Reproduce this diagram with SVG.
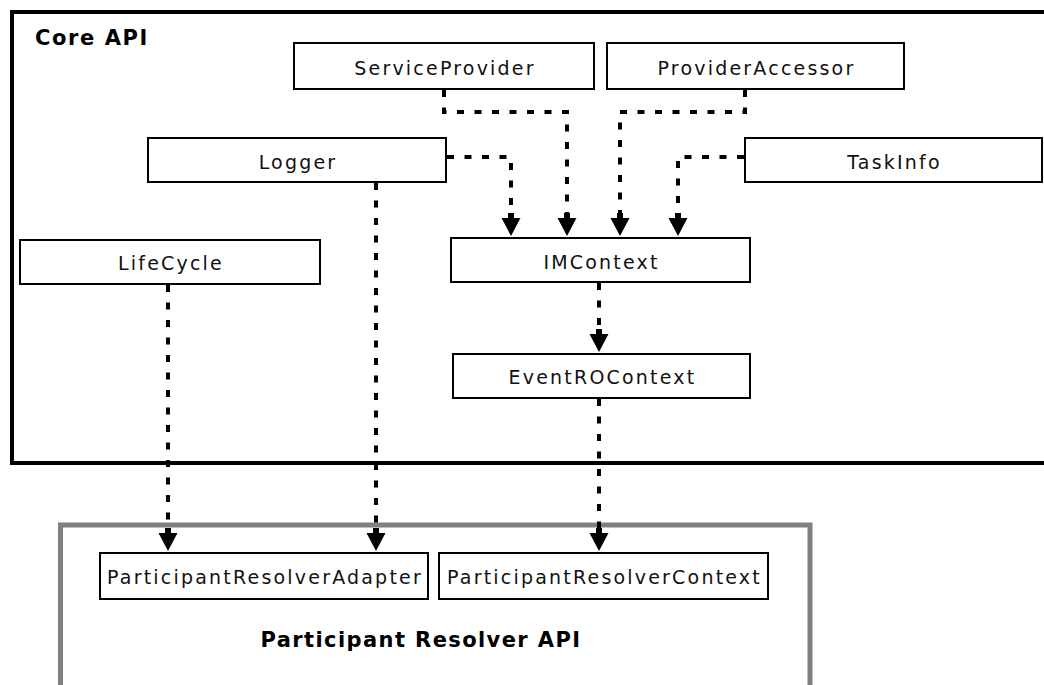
<svg xmlns="http://www.w3.org/2000/svg" xmlns:xlink="http://www.w3.org/1999/xlink" width="1044" height="685" viewBox="0 0 1044 685">
<style>
.node rect{fill:#fff;stroke:#000;stroke-width:2}
.node text{font-family:"DejaVu Sans",Verdana,sans-serif;font-size:19px;letter-spacing:2.2px;fill:#111;text-anchor:middle}
.title{font-family:"DejaVu Sans",Verdana,sans-serif;font-weight:bold;font-size:21px;fill:#000}
.conn path.l{fill:none;stroke:#000;stroke-width:4;stroke-dasharray:7 10.5}
.ah{fill:#000}
</style>
<defs>
<path id="ah" class="ah" d="M-3,-23 H3 V-18 H9.5 L0,0 L-9.5,-18 H-3 Z"/>
</defs>
<rect width="1044" height="685" fill="#fff"/>
<g id="core-api">
<rect x="12" y="12" width="1040" height="451" fill="none" stroke="#000" stroke-width="4"/>
<text class="title" x="35" y="45" letter-spacing="1.6">Core API</text>
</g>
<g id="participant-resolver-api">
<rect x="60.5" y="525" width="749.5" height="200" fill="none" stroke="#808080" stroke-width="5"/>
<text class="title" x="421" y="647" text-anchor="middle" letter-spacing="1.4">Participant Resolver API</text>
</g>
<g id="ServiceProvider" class="node"><rect x="294" y="43" width="300" height="46"/><text x="445" y="74.5">ServiceProvider</text></g>
<g id="ProviderAccessor" class="node"><rect x="607" y="43" width="297" height="46"/><text x="756.5" y="74.5">ProviderAccessor</text></g>
<g id="Logger" class="node"><rect x="148" y="138" width="298" height="44"/><text x="298" y="168.5">Logger</text></g>
<g id="TaskInfo" class="node"><rect x="745" y="138" width="297" height="44"/><text x="894.5" y="168.5">TaskInfo</text></g>
<g id="LifeCycle" class="node"><rect x="20" y="240" width="300" height="44"/><text x="171" y="269.5">LifeCycle</text></g>
<g id="IMContext" class="node"><rect x="451" y="238" width="299" height="44"/><text x="601.5" y="268.5">IMContext</text></g>
<g id="EventROContext" class="node"><rect x="453" y="354" width="297" height="44"/><text x="602.5" y="384">EventROContext</text></g>
<g id="ParticipantResolverAdapter" class="node"><rect x="100" y="553" width="328" height="46"/><text x="265" y="584">ParticipantResolverAdapter</text></g>
<g id="ParticipantResolverContext" class="node"><rect x="439" y="553" width="329" height="46"/><text x="604.5" y="584">ParticipantResolverContext</text></g>
<g id="connectors" class="conn">
<path class="l" d="M444,90 V112 H567 V213"/>
<use xlink:href="#ah" x="567" y="236"/>
<path class="l" d="M745,90 V112 H620 V213"/>
<use xlink:href="#ah" x="620" y="236"/>
<path class="l" d="M447,157 H511 V213"/>
<use xlink:href="#ah" x="511" y="236"/>
<path class="l" d="M744,157 H678 V213"/>
<use xlink:href="#ah" x="678" y="236"/>
<path class="l" d="M376,183 V529"/>
<use xlink:href="#ah" x="376" y="551"/>
<path class="l" d="M168,285 V529"/>
<use xlink:href="#ah" x="168" y="551"/>
<path class="l" d="M599,283 V329"/>
<use xlink:href="#ah" x="599" y="352"/>
<path class="l" d="M599,399 V529"/>
<use xlink:href="#ah" x="599" y="551"/>
</g>
</svg>
